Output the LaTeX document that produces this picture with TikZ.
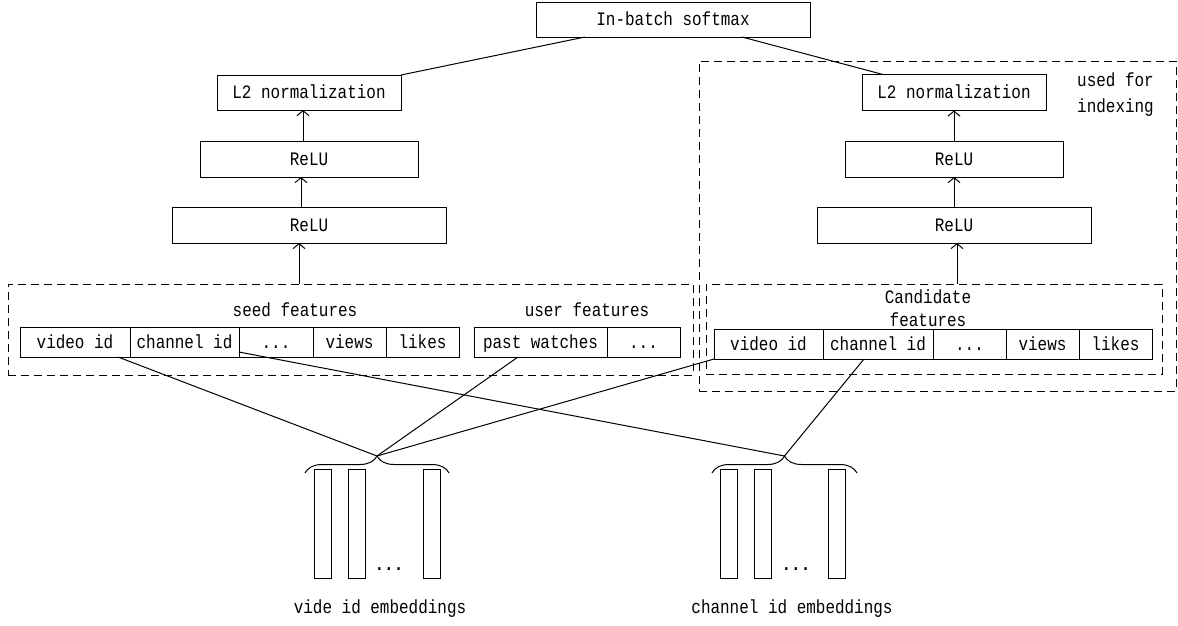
\documentclass[tikz,border=0pt]{standalone}
\usepackage{fontspec}
\setmainfont{Liberation Mono}[FakeStretch=0.84]
\usetikzlibrary{arrows.meta,decorations.pathreplacing,calc}
\tikzset{
  wh/.style 2 args={minimum width=#1pt, minimum height=#2pt},
  box/.style={draw, line width=1pt, inner sep=0pt, outer sep=0pt, text height=12.5pt, text depth=0pt},
  dbox/.style={draw, line width=1pt, dash pattern=on 8pt off 5pt, inner sep=0pt, outer sep=0pt},
  arr/.style={line width=1pt, -{Straight Barb[length=5pt,width=12pt]}},
  con/.style={line width=1pt},
  bar/.style={draw, line width=1pt, minimum width=17pt, minimum height=109pt, inner sep=0pt, outer sep=0pt},
  brc/.style={line width=1pt, decorate, decoration={brace, amplitude=17pt}},
}
\begin{document}
\begin{tikzpicture}[x=1pt,y=-1pt,font=\fontsize{19}{22}\selectfont]
\useasboundingbox (0,0) rectangle (1178,625);

% top
\node[box, wh={274}{35}] (sm) at (673,19.5) {In-batch softmax};

% left tower
\node[box, wh={184}{35}] (l2L) at (309,92.5) {L2 normalization};
\node[box, wh={218}{36}] (r1L) at (309,159) {ReLU};
\node[box, wh={274}{36}] (r2L) at (309,225) {ReLU};

% right tower
\node[dbox, wh={477}{330}] (outer) at (937.5,226) {};
\node[box, wh={184}{36}] (l2R) at (954,92.5) {L2 normalization};
\node[box, wh={218}{36}] (r1R) at (954,159) {ReLU};
\node[box, wh={274}{36}] (r2R) at (954,225) {ReLU};
\node[align=center, font=\fontsize{19}{26}\selectfont] (usedt) at (1115.5,95) {used for\\indexing};

% seed / user features
\node[dbox, wh={685}{91}] (seed) at (350.5,329.5) {};
\node (seedt) at (295,310) {seed features};
\node (usert) at (587,310) {user features};
\node[box, wh={110}{30}] (lvid) at (75,342) {video id};
\node[box, wh={109}{30}] (lch) at (184.5,342) {channel id};
\node[box, wh={74}{30}] (ldt) at (276,342) {...};
\node[box, wh={73}{30}] (lvw) at (349.5,342) {views};
\node[box, wh={73}{30}] (llk) at (422.5,342) {likes};
\node[box, wh={133}{30}] (lpw) at (540.5,342) {past watches};
\node[box, wh={73}{30}] (lud) at (643.5,342) {...};

% candidate features
\node[dbox, wh={456}{90}] (cand) at (934,329) {};
\node[align=center, font=\fontsize{19}{23.5}\selectfont] (candt) at (928,308) {Candidate\\features};
\node[box, wh={109}{30}] (rvid) at (768.5,344) {video id};
\node[box, wh={110}{30}] (rch) at (878,344) {channel id};
\node[box, wh={73}{30}] (rdt) at (969.5,344) {...};
\node[box, wh={73}{30}] (rvw) at (1042.5,344) {views};
\node[box, wh={73}{30}] (rlk) at (1115.5,344) {likes};

% embeddings
\node[bar] (lb1) at (323,523.5) {};
\node[bar] (lb2) at (357,523.5) {};
\node[bar] (lb3) at (431.5,523.5) {};
\node[anchor=base, font=\fontsize{19}{22}\selectfont\bfseries] (ldots) at (389,570) {...};
\node (lemb) at (380,609) {vide id embeddings};
\node[bar] (rb1) at (728.5,523.5) {};
\node[bar] (rb2) at (763,523.5) {};
\node[bar] (rb3) at (837,523.5) {};
\node[anchor=base, font=\fontsize{19}{22}\selectfont\bfseries] (rdots) at (796,570) {...};
\node (remb) at (792,609) {channel id embeddings};

\draw[brc] (305,473) -- (449,473);
\draw[brc] (712,473) -- (857,473);
\coordinate (lt) at (377,456);
\coordinate (rt) at (784.5,456);

% connectors
\draw[con] (l2L.north east) -- ([xshift=-88pt]sm.south);
\draw[con] ([xshift=69pt]sm.south) -- ([xshift=-71pt]l2R.north);
\draw[arr] ([xshift=-6pt]r1L.north) -- ([xshift=-6pt]l2L.south);
\draw[arr] ([xshift=-8pt]r2L.north) -- ([xshift=-8pt]r1L.south);
\draw[arr] ([xshift=-10pt]r2L.south |- seed.north) -- ([xshift=-10pt]r2L.south);
\draw[arr] (r1R.north) -- (l2R.south);
\draw[arr] (r2R.north) -- (r1R.south);
\draw[arr] ([xshift=3pt]r2R.south |- cand.north) -- ([xshift=3pt]r2R.south);

\draw[con] ([xshift=43pt]lvid.south) -- (lt);
\draw[con] ([yshift=5pt]lch.south east) -- (rt);
\draw[con] ([xshift=-22.5pt]lpw.south) -- (lt);
\draw[con] (rvid.south west) -- (lt);
\draw[con] ([xshift=-14pt]rch.south) -- (rt);
\end{tikzpicture}
\end{document}
